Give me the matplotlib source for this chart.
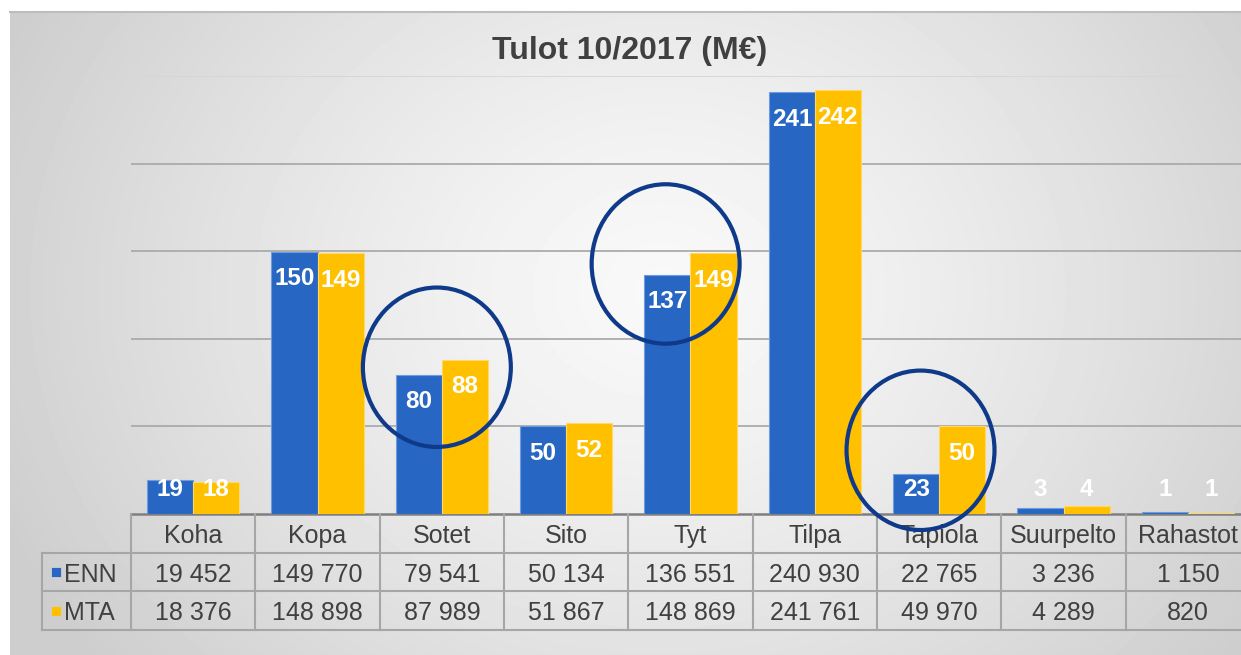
import matplotlib.pyplot as plt
import numpy as np
from matplotlib.patches import Ellipse

# data (thousand euros)
categories = ['Koha', 'Kopa', 'Sotet', 'Sito', 'Tyt', 'Tilpa', 'Tapiola', 'Suurpelto', 'Rahastot']
series = ['ENN', 'MTA']
enn = [19452, 149770, 79541, 50134, 136551, 240930, 22765, 3236, 1150]
mta = [18376, 148898, 87989, 51867, 148869, 241761, 49970, 4289, 820]
circled = ['Sotet', 'Tyt', 'Tapiola']
circle_dx = [-0.04, -0.2, -0.15]  # hand drawn circles sit a bit left
yticks = [50, 100, 150, 200, 250]

blue = '#2767c3'
yellow = '#ffc000'
text_gray = '#404040'
line_gray = '#a6a6a6'

plt.rcParams['font.family'] = ['Liberation Sans', 'DejaVu Sans']

W, H = 1241, 655
fig = plt.figure(figsize=(W / 100, H / 100), dpi=100)

def fx(px):
    return px / W

def fy(py):
    return (H - py) / H

# gradient background of the chart frame
bg = fig.add_axes([fx(10), 0, 1 - fx(10), fy(12)])
xx, yy = np.meshgrid(np.arange(10, W), np.arange(12, H))
r = np.sqrt(((xx - 660) / 720.0) ** 2 + ((yy - 290) / 600.0) ** 2)
shade = 0.975 - 0.17 * np.clip(r, 0, 1) ** 1.3
bg.imshow(shade, cmap='gray', vmin=0, vmax=1, aspect='auto', interpolation='bilinear')
bg.axis('off')
bg.plot([0, 1], [1, 1], transform=bg.transAxes, color='#bdbdbd', lw=1.5, clip_on=False)

# main bar axes
cw = (1250 - 131) / 9.0  # px per category
ax = fig.add_axes([fx(131), fy(514), (1250 - 131) / W, (514 - 76) / H])
ax.set_facecolor('none')
ax.set_zorder(3)

x = np.arange(len(categories))
e = np.array(enn) / 1000.0
m = np.array(mta) / 1000.0
bw = 0.37
ax.bar(x - bw / 2, e, bw, color=blue, edgecolor='#6f9be0', linewidth=0.8, zorder=2)
ax.bar(x + bw / 2, m, bw, color=yellow, edgecolor='#ffd866', linewidth=0.8, zorder=2)

for xs, vals in [(x - bw / 2, e), (x + bw / 2, m)]:
    for xi, v in zip(xs, vals):
        ax.text(xi, max(v - 15.5, 13.7), f'{round(v):d}', ha='center', va='center',
                color='white', fontsize=17.5, fontweight='bold', zorder=4)

ax.set_xlim(-0.5, len(categories) - 0.5)
ax.set_ylim(0, 250)
ax.set_yticks(yticks)
ax.yaxis.grid(True, color='#ababab', lw=1.3, zorder=0)
ax.set_axisbelow(True)
ax.yaxis.get_gridlines()[-1].set_color('#d6d6d6')
ax.tick_params(left=False, bottom=False, labelleft=False, labelbottom=False)
for s in ax.spines.values():
    s.set_visible(False)

# circles around selected groups
for name, dx in zip(circled, circle_dx):
    i = categories.index(name)
    cy = (e[i] + m[i]) / 2
    ax.add_patch(Ellipse((i + dx, cy), 1.19, 91, fill=False, edgecolor='#0f3a8a',
                         lw=3, zorder=5, clip_on=False))

# data table below the bars
hdr = 89 / cw
tab = fig.add_axes([fx(42), fy(630), (1250 - 42) / W, (630 - 514) / H])
tab.set_facecolor('none')
tab.set_zorder(2)
tab.set_xlim(-0.5 - hdr, len(categories) - 0.5)
tab.set_ylim(3, 0)
tab.axis('off')

n = len(categories)
tab.plot([-0.5, n - 0.5], [0, 0], color='#7f7f7f', lw=1.8, clip_on=False)
for yv in [1, 2, 3]:
    tab.plot([-0.5 - hdr, n - 0.5], [yv, yv], color=line_gray, lw=1.5, clip_on=False)
for k in range(n + 1):
    tab.plot([k - 0.5, k - 0.5], [0, 3], color=line_gray, lw=1.5, clip_on=False)
tab.plot([-0.5 - hdr, -0.5 - hdr], [1, 3], color=line_gray, lw=1.5, clip_on=False)

ty = 0.57  # text centre inside a row
for i, c in enumerate(categories):
    tab.text(i, ty, c, ha='center', va='center', fontsize=18, color=text_gray)
for row, (name, vals, col) in enumerate(zip(series, [enn, mta], [blue, yellow]), start=1):
    tab.plot(-0.5 - hdr + 14 / cw, row + 0.5, 's', ms=7, color=col,
             mec='#d0d0d0', mew=0.6, clip_on=False)
    tab.text(-0.5 - hdr + 22 / cw, row + ty, name, ha='left', va='center',
             fontsize=18, color=text_gray)
    for i, v in enumerate(vals):
        tab.text(i, row + ty, f'{v:,}'.replace(',', ' '), ha='center', va='center',
                 fontsize=18, color=text_gray)

fig.text(fx(630), fy(51), 'Tulot 10/2017 (M€)', ha='center', va='center',
         fontsize=23, fontweight='bold', color=text_gray)

fig.savefig('out.png', dpi=100)
